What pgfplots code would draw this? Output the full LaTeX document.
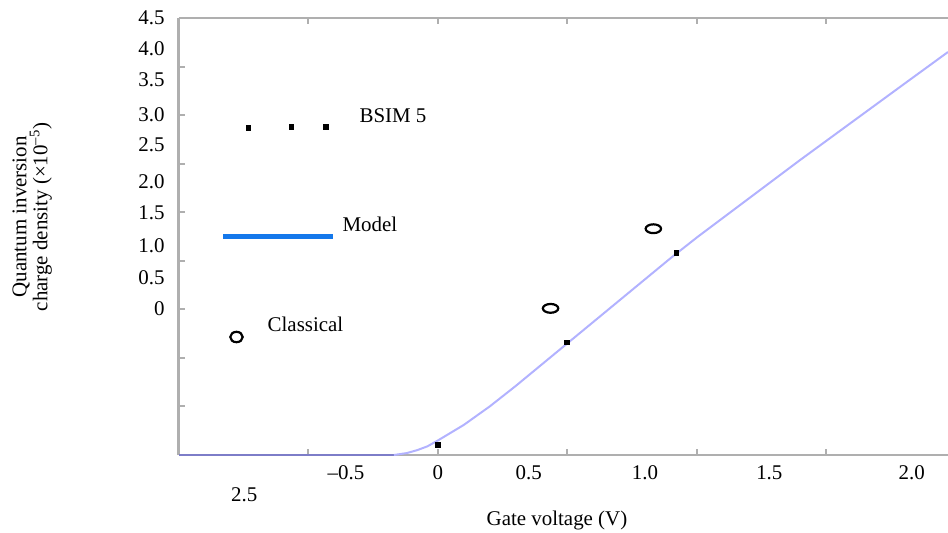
\documentclass[border=0pt]{standalone}
\usepackage{fontspec}
\setmainfont{Liberation Serif}
\usepackage{pgfplots}
\pgfplotsset{compat=1.18}
\definecolor{axgray}{RGB}{175,175,175}
\definecolor{modelblue}{RGB}{20,120,235}
\definecolor{curvelight}{RGB}{178,178,255}
\definecolor{curvedark}{RGB}{125,125,200}

\begin{document}
\fontsize{10.5}{12.6}\selectfont
\begin{tikzpicture}
\begin{axis}[
  scale only axis,
  width=384.5bp, height=218.5bp,
  xmin=-1, xmax=1.97,
  ymin=0, ymax=4.5,
  enlargelimits=false,
  axis x line=box, axis y line=left,
  x axis line style={-, draw=axgray, line width=1bp},
  y axis line style={-, draw=axgray, line width=1.5bp},
  tick align=inside,
  major tick length=3bp,
  tick style={axgray, line width=1bp},
  xtick={-0.5,0,0.5,1,1.5}, xticklabels={},
  ytick={0,0.5,...,4.5}, yticklabels={},
  extra x ticks={-0.355,0,0.351,0.80,1.28,1.83},
  extra x tick labels={--0.5,0,0.5,1.0,1.5,2.0},
  extra y ticks={1.51,1.83,2.16,2.49,2.81,3.19,3.50,3.86,4.18,4.50},
  extra y tick labels={0,0.5,1.0,1.5,2.0,2.5,3.0,3.5,4.0,4.5},
  extra x tick style={major tick length=0pt, xticklabel style={yshift=-1.5bp}},
  extra y tick style={major tick length=0pt, yticklabel style={xshift=-3.5bp}},
  xlabel={Gate voltage (V)},
  xlabel style={at={(axis description cs:0.4915,-0.149)}, anchor=center},
  ylabel={Quantum inversion\\charge density (×10\textsuperscript{--5})},
  ylabel style={at={(axis description cs:-0.191,0.545)}, anchor=center, align=center, font=\fontsize{10.5}{10.5}\selectfont},
  clip=false,
]
% Model curve
\addplot[curvedark, line width=1bp] coordinates {(-1,0) (-0.17,0)};
\addplot[curvelight, line width=1bp] coordinates {
  (-0.17,0) (-0.12,0.02) (-0.08,0.05) (-0.04,0.09) (0,0.15) (0.1,0.31)
  (0.2,0.5) (0.3,0.71) (0.4,0.93) (0.5,1.15) (0.6,1.37) (0.7,1.59)
  (0.8,1.81) (0.9,2.03) (1.0,2.24) (1.2,2.64) (1.4,3.04) (1.6,3.43)
  (1.8,3.82) (1.97,4.15)};
% BSIM 5 points
\addplot[only marks, mark=square*, mark size=1.2bp, black] coordinates {
  (0,0.10) (0.497,1.16) (0.921,2.08)};
% Classical points
\addplot[only marks, mark=o, mark size=2.2bp, line width=1.1bp, black,
  mark options={xscale=1.75}] coordinates {(0.435,1.51) (0.832,2.33)};
% key drawn inside the plot
\addplot[only marks, mark=square*, mark size=1.2bp, black] coordinates {
  (-0.732,3.37) (-0.566,3.38) (-0.432,3.38)};
\addplot[modelblue, line width=2.5bp] coordinates {(-0.829,2.245) (-0.405,2.245)};
\addplot[only marks, mark=o, mark size=2.6bp, line width=1.1bp, black,
  mark options={xscale=1.2}] coordinates {(-0.778,1.215)};
\node[anchor=west, inner sep=0pt] at (axis cs:-0.304,3.49) {BSIM 5};
\node[anchor=west, inner sep=0pt] at (axis cs:-0.370,2.38) {Model};
\node[anchor=west, inner sep=0pt] at (axis cs:-0.659,1.35) {Classical};
\node[anchor=center, yshift=-20bp] at (axis cs:-0.748,0) {2.5};
\end{axis}
\pgfresetboundingbox
\path[use as bounding box] ([shift={(-89.5bp,-39bp)}]current axis.south west)
  rectangle ([shift={(0bp,9bp)}]current axis.north east);
\end{tikzpicture}
\end{document}
